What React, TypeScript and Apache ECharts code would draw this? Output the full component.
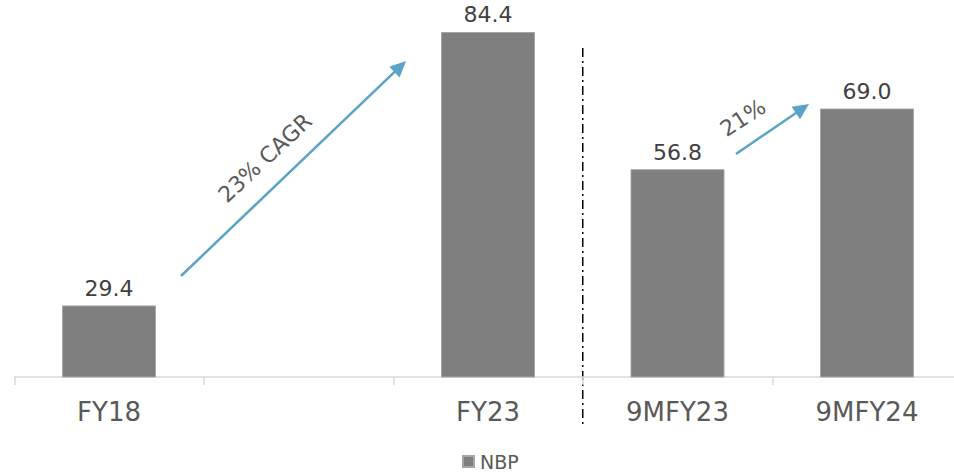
import React, { useEffect, useRef } from "react";
import * as echarts from "echarts";

const categories = ["FY18", "", "FY23", "9MFY23", "9MFY24"];
const nbpValues: (number | null)[] = [29.4, null, 84.4, 56.8, 69.0];
const seriesName = "NBP";
const cagrText = "23% CAGR";
const growthText = "21%";

function arrow(x1: number, y1: number, x2: number, y2: number, color: string) {
  const dx = x2 - x1;
  const dy = y2 - y1;
  const len = Math.sqrt(dx * dx + dy * dy);
  const ux = dx / len;
  const uy = dy / len;
  const headL = 16;
  const headW = 7.5;
  const bx = x2 - ux * headL;
  const by = y2 - uy * headL;
  const px = -uy;
  const py = ux;
  return [
    {
      type: "line",
      shape: { x1, y1, x2: bx + ux * 2, y2: by + uy * 2 },
      style: { stroke: color, lineWidth: 2.5 },
      silent: true,
    },
    {
      type: "polygon",
      shape: {
        points: [
          [x2, y2],
          [bx + px * headW, by + py * headW],
          [bx - px * headW, by - py * headW],
        ],
      },
      style: { fill: color },
      silent: true,
    },
  ];
}

export default function App() {
  const ref = useRef<HTMLDivElement>(null);
  useEffect(() => {
    if (!ref.current) return;
    const chart = echarts.init(ref.current, null, { renderer: "svg" });
    const font = "'DejaVu Sans', Verdana, sans-serif";
    chart.setOption({
      animation: false,
      textStyle: { fontFamily: font },
      grid: { left: 14.25, width: 947.5, top: 29, height: 348, outerBoundsMode: "none", containLabel: false },
      legend: {
        data: [seriesName],
        left: 462,
        top: 452,
        icon: "rect",
        itemWidth: 11,
        itemHeight: 11,
        itemGap: 6,
        padding: 0,
        textStyle: { fontSize: 19, color: "#595959", fontFamily: font, padding: [0, 0, 0, 1] },
      },
      xAxis: {
        type: "category",
        data: categories,
        axisLine: { lineStyle: { color: "#d9d9d9", width: 1.5 } },
        axisTick: { show: true, length: 8, lineStyle: { color: "#d9d9d9", width: 1.5 } },
        axisLabel: { fontSize: 26, color: "#595959", margin: 22, fontFamily: font },
      },
      yAxis: { type: "value", min: 15, max: 85, show: false, splitLine: { show: false } },
      series: [
        {
          name: seriesName,
          type: "bar",
          data: nbpValues,
          barWidth: "49.6%",
          itemStyle: { color: "#7f7f7f", borderColor: "#a6a6a6", borderWidth: 1 },
          label: {
            show: true,
            position: "top",
            distance: 6,
            fontSize: 22,
            color: "#404040",
            fontFamily: font,
            formatter: (p: any) => (p.value == null ? "" : Number(p.value).toFixed(1)),
          },
        },
      ],
    });

    const xa = chart.convertToPixel({ xAxisIndex: 0 }, categories[2]) as number;
    const xb = chart.convertToPixel({ xAxisIndex: 0 }, categories[3]) as number;
    const divX = (xa + xb) / 2;
    const blue = "#5ba3c6";
    chart.setOption({
      graphic: [
        {
          type: "line",
          shape: { x1: divX, y1: 48, x2: divX, y2: 425 },
          style: { stroke: "#000", lineWidth: 1.5, lineDash: [9, 4, 2, 4] },
          silent: true,
        },
        ...arrow(181, 276, 406, 61, blue),
        ...arrow(736, 154, 809, 104, blue),
        {
          type: "text",
          x: 265,
          y: 158,
          rotation: (43 * Math.PI) / 180,
          style: {
            text: cagrText,
            fontSize: 22,
            fontFamily: font,
            fill: "#595959",
            align: "center",
            verticalAlign: "middle",
          },
          silent: true,
        },
        {
          type: "text",
          x: 743,
          y: 118,
          rotation: (33 * Math.PI) / 180,
          style: {
            text: growthText,
            fontSize: 22,
            fontFamily: font,
            fill: "#595959",
            align: "center",
            verticalAlign: "middle",
          },
          silent: true,
        },
      ],
    });
    return () => chart.dispose();
  }, []);
  return <div ref={ref} style={{ width: 954, height: 476, position: "absolute", left: 0, top: 0 }} />;
}
